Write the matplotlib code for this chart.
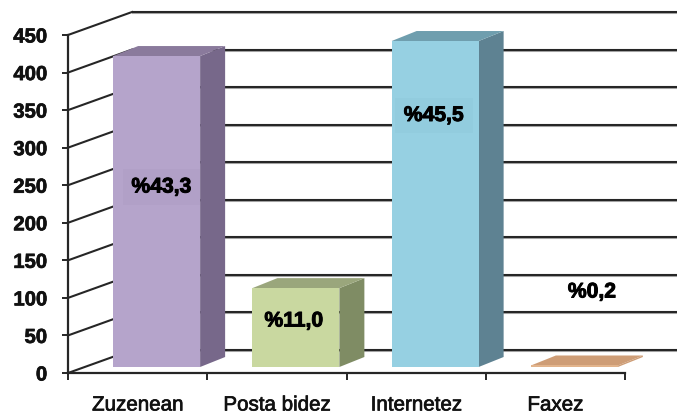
import matplotlib
matplotlib.use("Agg")
import matplotlib.pyplot as plt
from matplotlib.patches import Polygon
import matplotlib.patheffects as pe

categories = ["Zuzenean", "Posta bidez", "Internetez", "Faxez"]
values = [414, 105, 434, 2]
percent_labels = ["%43,3", "%11,0", "%45,5", "%0,2"]
y_ticks = [0, 50, 100, 150, 200, 250, 300, 350, 400, 450]

front_colors = ["#B5A4CB", "#C9D8A0", "#96D0E2", "#E2B48C"]
side_colors = ["#77688A", "#7F8C64", "#5E8292", "#CE9D76"]
top_colors = ["#8A7A9C", "#9AA67C", "#6F9EAE", "#CE9D76"]

W, H = 677, 416
AX_L, AX_R, AX_B, AX_T = 68, 625, 373, 35
plt.rcParams["font.family"] = ["Liberation Sans", "DejaVu Sans"]
fig = plt.figure(figsize=(W / 100, H / 100), dpi=100)
ax = fig.add_axes([AX_L / W, (H - AX_B) / H, (AX_R - AX_L) / W, (AX_B - AX_T) / H])
ax.set_xlim(0, 4)
ax.set_ylim(0, 450)
ax.patch.set_alpha(0)

sx = (AX_R - AX_L) / 4
sy = (AX_B - AX_T) / 450
px = lambda p: (p - AX_L) / sx
py = lambda p: (AX_B - p) / sy

WALL_DX, WALL_DY = 64 / sx, 23 / sy
BAR_DX, BAR_DY = 25 / sx, 10 / sy
BAR_SHIFT, BAR_FLOOR = 19 / sx, 6 / sy
BAR_W = 87 / sx
RIGHT = px(677)

LINE = "#262626"
LW = 1.5
for v in y_ticks:
    ax.plot([WALL_DX, RIGHT], [v + WALL_DY - 1.3, v + WALL_DY - 1.3], color="#a8a8a8", lw=LW,
            clip_on=False, zorder=1, solid_capstyle="butt")
    ax.plot([WALL_DX, RIGHT], [v + WALL_DY, v + WALL_DY], color=LINE, lw=LW,
            clip_on=False, zorder=1.1, solid_capstyle="butt")
    ax.plot([0, WALL_DX], [v, v + WALL_DY], color=LINE, lw=LW, clip_on=False, zorder=1.1)

lefts = [i + 0.5 + BAR_SHIFT - BAR_W / 2 for i in range(len(values))]
for i, (x0, v) in enumerate(zip(lefts, values)):
    b = BAR_FLOOR
    x1 = x0 + BAR_W
    ax.add_patch(Polygon([(x1, b), (x1 + BAR_DX, b + BAR_DY), (x1 + BAR_DX, b + v + BAR_DY), (x1, b + v)],
                         fc=side_colors[i], ec="none", zorder=3, clip_on=False))
    ax.add_patch(Polygon([(x0, b + v), (x1, b + v), (x1 + BAR_DX, b + v + BAR_DY), (x0 + BAR_DX, b + v + BAR_DY)],
                         fc=top_colors[i], ec="none", zorder=3, clip_on=False))
ax.bar([i + 0.5 + BAR_SHIFT for i in range(len(values))], values, width=BAR_W, bottom=BAR_FLOOR,
       color=front_colors, edgecolor="none", zorder=4)

ax.spines[["top", "right"]].set_visible(False)
for s in ("left", "bottom"):
    ax.spines[s].set_color(LINE)
    ax.spines[s].set_linewidth(1.6)
    ax.spines[s].set_zorder(5)
ax.set_yticks(y_ticks)
ax.set_xticks(range(5))
ax.set_xticklabels([])
ax.set_xticks([i + 0.5 for i in range(4)], minor=True)
ax.set_xticklabels(categories, minor=True)
ax.tick_params(axis="x", which="major", length=5.2, width=1.4, color=LINE, direction="out")
ax.tick_params(axis="x", which="minor", length=0, pad=16.2, labelsize=14.8, labelcolor="#111111")
ax.tick_params(axis="y", length=4, width=1.4, color=LINE, pad=11, labelsize=14.6, labelcolor="#111111")
thick = [pe.withStroke(linewidth=0.5, foreground="#111111")]
for t in ax.get_xticklabels(minor=True) + ax.get_yticklabels():
    t.set_path_effects(thick)
for t in ax.get_yticklabels():
    t.set_fontweight("bold")

label_px = [(161.5, 187), (294, 321), (434, 115.5), (592, 292)]
label_bg = ["#B1A0C7", None, "#92CCDE", None]
heavy = [pe.withStroke(linewidth=0.7, foreground="#000000")]
for txt, (lx, ly), bg in zip(percent_labels, label_px, label_bg):
    kw = {}
    if bg:
        kw["bbox"] = dict(boxstyle="square,pad=0.4", fc=bg, ec="none")
    ax.text(px(lx), py(ly), txt, ha="center", va="center", fontsize=15.2, fontweight="bold",
            color="#000000", zorder=6, clip_on=False, path_effects=heavy, **kw)

fig.savefig("out.png", dpi=100)
